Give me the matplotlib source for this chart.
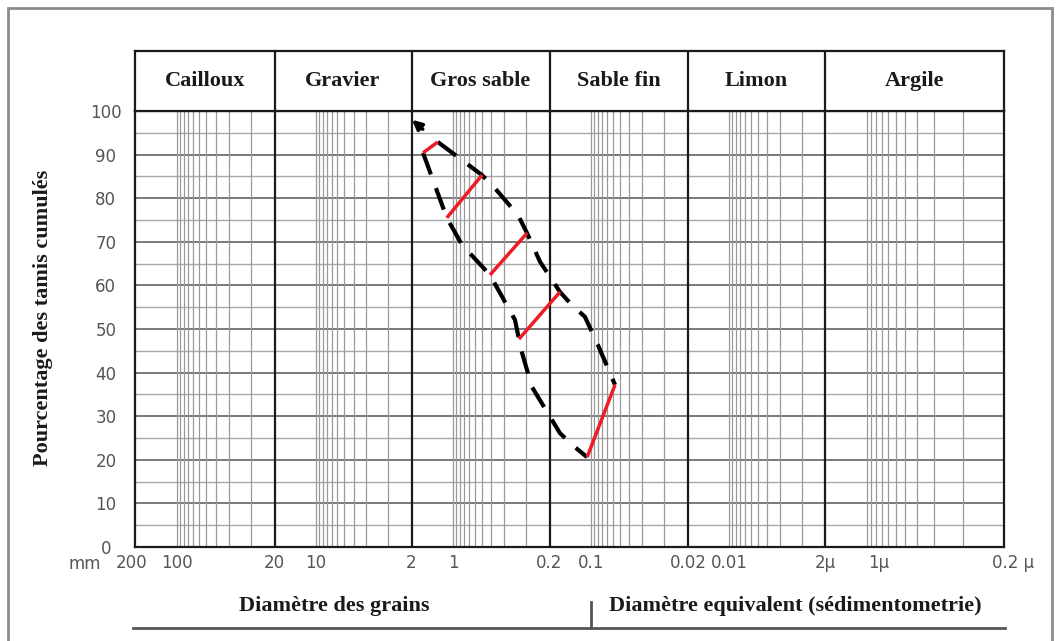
import numpy as np
import matplotlib.pyplot as plt
from matplotlib.lines import Line2D
from matplotlib.patches import Rectangle
from matplotlib.transforms import ScaledTranslation

# grain size classes (mm) and their names
bounds = [200, 20, 2, 0.2, 0.02, 0.002, 0.0002]
section_names = ["Cailloux", "Gravier", "Gros sable", "Sable fin", "Limon", "Argile"]
section_width = [139.5, 137, 138, 138.5, 137, 179]  # drawn width of each class band

tick_vals = [200, 100, 20, 10, 2, 1, 0.2, 0.1, 0.02, 0.01, 0.002, 0.001, 0.0002]
tick_text = ["200", "100", "20", "10", "2", "1", "0.2", "0.1", "0.02", "0.01", "2µ", "1µ", "0.2 µ"]

# envelope of the grading curves: diameter (mm) / cumulative %
upper_d = [1.29, 0.617, 0.513, 0.338, 0.291, 0.234, 0.168, 0.138, 0.111, 0.0893, 0.0673]
upper_p = [92.9, 85.3, 82.8, 76.1, 72.0, 65.4, 58.5, 55.5, 52.8, 46.3, 37.2]
lower_d = [1.65, 1.11, 0.861, 0.540, 0.356, 0.333, 0.316, 0.268, 0.168, 0.131, 0.107]
lower_p = [90.4, 75.5, 69.3, 62.4, 52.1, 47.7, 44.5, 36.7, 26.1, 22.9, 20.6]

# red segments joining the two envelopes
rung_lo_d = [1.65, 1.11, 0.540, 0.333, 0.107]
rung_lo_p = [90.4, 75.5, 62.4, 47.7, 20.6]
rung_hi_d = [1.29, 0.617, 0.291, 0.168, 0.0673]
rung_hi_p = [92.9, 85.3, 72.0, 58.5, 37.2]

arrow_from = (1.60, 95.4)
arrow_to = (2.05, 98.4)

# piecewise log scale (each class band has its own width)
log_b = np.log10(bounds[::-1])
pos_b = np.concatenate([[0.0], np.cumsum(section_width[::-1])])


def _interp(x, xp, fp):
    x = np.asarray(x, float)
    y = np.interp(x, xp, fp)
    y = np.where(x < xp[0], fp[0] + (x - xp[0]) * (fp[1] - fp[0]) / (xp[1] - xp[0]), y)
    y = np.where(x > xp[-1], fp[-1] + (x - xp[-1]) * (fp[-1] - fp[-2]) / (xp[-1] - xp[-2]), y)
    return y


def fwd(d):
    d = np.clip(np.asarray(d, float), 1e-12, None)
    return _interp(np.log10(d), log_b, pos_b)


def inv(p):
    return 10 ** _interp(p, pos_b, log_b)


W, H = 1057, 641
fig = plt.figure(figsize=(W / 100, H / 100), dpi=100)
fig.patch.set_facecolor("white")

left, right = 135, 1004
top_grid, bot_grid, top_head = 111, 547, 50.7
ax = fig.add_axes([left / W, 1 - bot_grid / H, (right - left) / W, (bot_grid - top_grid) / H])
hd = fig.add_axes([left / W, 1 - top_grid / H, (right - left) / W, (top_grid - top_head) / H])

for a in (ax, hd):
    a.set_xscale("function", functions=(fwd, inv))
    a.set_xlim(200, 0.0002)
ax.set_ylim(0, 100)

# horizontal grid
for v in range(5, 100, 10):
    ax.axhline(v, color="#a8a8a8", lw=1.0, zorder=1)
for v in range(10, 100, 10):
    ax.axhline(v, color="#555555", lw=1.1, zorder=1)

# vertical log-paper pattern inside every band
for k in range(6):
    off, span = (0.232, 0.54) if k == 5 else (0.30, 0.53)
    for m in range(10, 0, -1):
        f = off + span * np.log10(10 / m)
        ax.axvline(bounds[k] * 10 ** (-f), color="#9a9a9a", lw=0.9, zorder=1)
for b in bounds[1:-1]:
    ax.axvline(b, color="#1a1a1a", lw=1.6, zorder=2)

for sp in ax.spines.values():
    sp.set_color("#1a1a1a")
    sp.set_linewidth(1.6)

# curves
dash = (0, (5.5, 3.5))
ax.plot(upper_d, upper_p, color="black", lw=3, linestyle=dash, zorder=4)
ax.plot(lower_d, lower_p, color="black", lw=3, linestyle=dash, zorder=4)
for x0, y0, x1, y1 in zip(rung_lo_d, rung_lo_p, rung_hi_d, rung_hi_p):
    ax.plot([x0, x1], [y0, y1], color="#ee1c24", lw=2.5, zorder=5, solid_capstyle="butt")
ax.annotate("", xy=arrow_to, xytext=arrow_from,
            arrowprops=dict(arrowstyle="-|>", color="black", lw=2.5, mutation_scale=14),
            zorder=6)

# ticks
ax.set_xticks(tick_vals, tick_text)
ax.set_yticks(range(0, 101, 10))
ax.tick_params(axis="both", length=0, labelsize=12, labelcolor="#555555")
ax.tick_params(axis="x", pad=5)
ax.tick_params(axis="y", pad=21)
for lab in ax.get_yticklabels():
    lab.set_horizontalalignment("center")
    lab.set_verticalalignment("center_baseline")
xl = ax.get_xticklabels()
xl[0].set_transform(xl[0].get_transform() + ScaledTranslation(-0.03, 0, fig.dpi_scale_trans))
xl[-1].set_transform(xl[-1].get_transform() + ScaledTranslation(0.09, 0, fig.dpi_scale_trans))
ax.text(-0.058, -0.04, "mm", transform=ax.transAxes, ha="center", va="center",
        fontsize=12, color="#555555")

# header with class names
hd.set_ylim(0, 1)
hd.tick_params(axis="both", length=0, labelbottom=False, labelleft=False)
for sp in hd.spines.values():
    sp.set_color("#1a1a1a")
    sp.set_linewidth(1.6)
for b in bounds[1:-1]:
    hd.axvline(b, color="#1a1a1a", lw=1.6)
serif = dict(family="Liberation Serif", fontweight="bold", fontsize=16, color="#1a1a1a")
for k, name in enumerate(section_names):
    c = np.sqrt(bounds[k] * bounds[k + 1])
    hd.text(c, 0.5, name, ha="center", va="center", **serif)

# axis titles
fig.text(43 / W, 1 - 318 / H, "Pourcentage des tamis cumulés", rotation=90,
         ha="center", va="center", **serif)
fig.text(334 / W, 1 - 606 / H, "Diamètre des grains", ha="center", va="center", **serif)
fig.text(795 / W, 1 - 606 / H, "Diamètre equivalent (sédimentometrie)",
         ha="center", va="center", **serif)
fig.add_artist(Line2D([133 / W, 1005 / W], [1 - 628 / H, 1 - 628 / H],
                      color="#555555", lw=2))
fig.add_artist(Line2D([591 / W, 591 / W], [1 - 602 / H, 1 - 628 / H],
                      color="#555555", lw=2))

# outer frame
fig.add_artist(Rectangle((8 / W, -0.05), (1052 - 8) / W, 1.05 - 8 / H,
                         transform=fig.transFigure, fill=False,
                         edgecolor="#8c8c8c", lw=2))

fig.savefig("out.png", dpi=100)
